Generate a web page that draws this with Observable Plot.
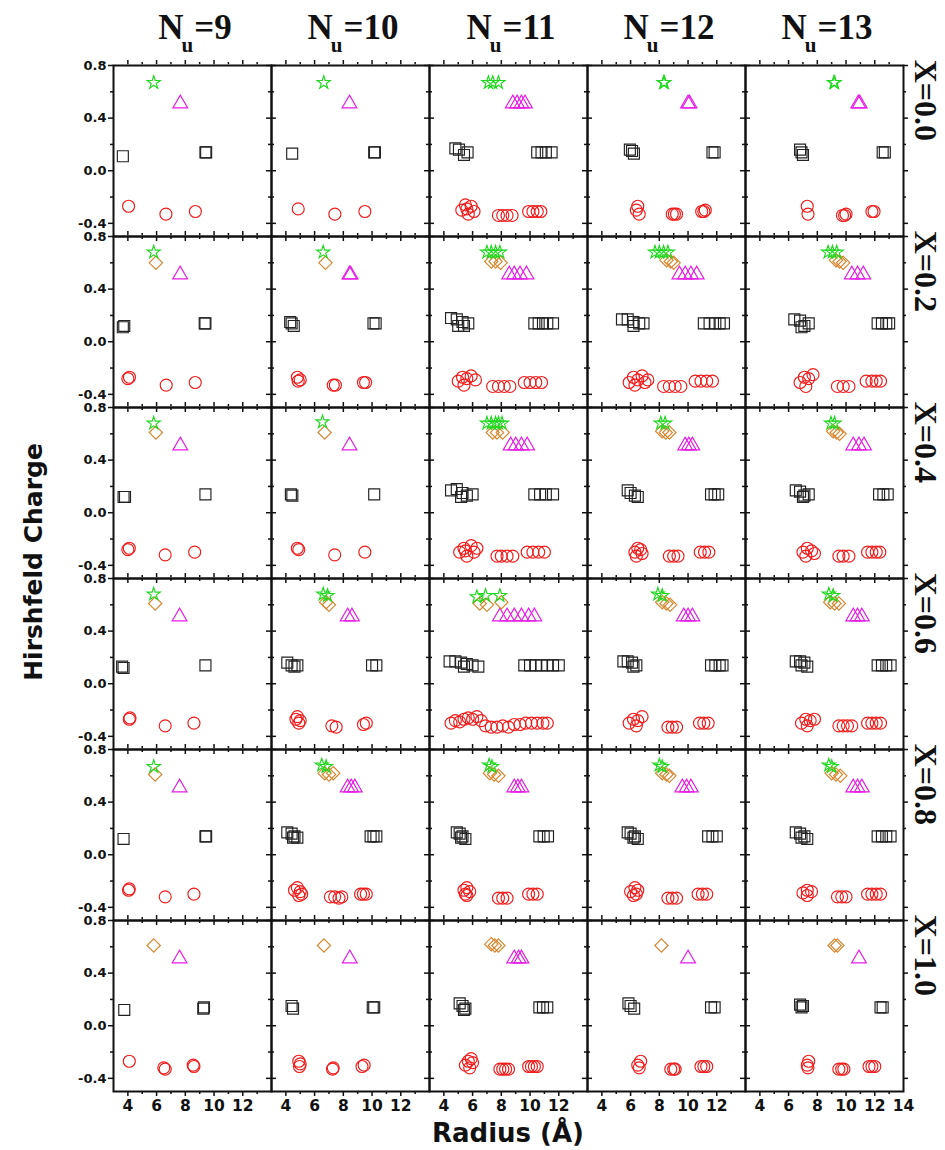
<!DOCTYPE html>
<html>
<head>
<meta charset="utf-8">
<script src="https://cdn.jsdelivr.net/npm/d3@7"></script>
<script src="https://cdn.jsdelivr.net/npm/@observablehq/plot@0.6"></script>
<style>
  body { margin: 0; background: #fff; }
  #wrap { position: relative; width: 945px; height: 1150px; background: #fff; }
  #wrap svg { position: absolute; left: 0; top: 0; }
  .colhead { position: absolute; top: 10px; width: 158px; text-align: center; white-space: nowrap;
             font: bold 35px "Liberation Serif", serif; line-height: 35px; color: #111; }
  .colhead sub { font-size: 21px; vertical-align: -13px; line-height: 0; margin-left: -2px; margin-right: 1px; }
  .ytitle { position: absolute; left: 33px; top: 562px; transform: translate(-50%, -50%) rotate(-90deg);
            font: bold 25px "DejaVu Sans", sans-serif; white-space: nowrap; color: #111; }
  .xtitle { position: absolute; left: 508px; top: 1133px; transform: translate(-50%, -50%);
            font: bold 26px "DejaVu Sans", sans-serif; white-space: nowrap; color: #111; }
</style>
</head>
<body>
<div id="wrap"></div>
<script>
// ---------- categories / ticks ----------
const nuValues = [9, 10, 11, 12, 13];
const xValues = ["0.0", "0.2", "0.4", "0.6", "0.8", "1.0"];
const xTickLabels = [4, 6, 8, 10, 12];
const xTickExtraLast = [14];
const yTickLabels = [0.8, 0.4, 0.0, -0.4];
const xMajorTicks = [4, 6, 8, 10, 12];
const xMinorTicks = [5, 7, 9, 11, 13];
const yMajorTicks = [0.8, 0.4, 0.0, -0.4];
const yMinorTicks = [0.6, 0.2, -0.2];

// ---------- series: [X, Nu, [[radius, charge], ...]] ----------
const squarePoints = [
  ["0.0", 9,  [[3.65,0.11],[9.4,0.14],[9.45,0.14]]],
  ["0.0", 10, [[4.44,0.13],[10.15,0.14],[10.2,0.14]]],
  ["0.0", 11, [[4.8,0.17],[5.05,0.16],[5.4,0.12],[5.65,0.14],[10.5,0.14],[10.8,0.14],[11.1,0.14],[11.5,0.14]]],
  ["0.0", 12, [[5.95,0.16],[6.1,0.15],[6.23,0.13],[11.7,0.14],[11.85,0.14]]],
  ["0.0", 13, [[6.8,0.16],[6.9,0.14],[7.0,0.12],[12.55,0.14],[12.7,0.14]]],
  ["0.2", 9,  [[3.65,0.11],[3.75,0.12],[9.35,0.14],[9.4,0.14]]],
  ["0.2", 10, [[4.3,0.15],[4.4,0.14],[4.55,0.12],[10.1,0.14],[10.25,0.14]]],
  ["0.2", 11, [[4.5,0.18],[4.9,0.17],[5.3,0.15],[5.7,0.14],[5.0,0.12],[5.4,0.12],[10.3,0.14],[10.6,0.14],[10.9,0.14],[11.2,0.14],[11.6,0.14]]],
  ["0.2", 12, [[5.4,0.17],[5.8,0.17],[6.2,0.15],[6.6,0.14],[6.9,0.14],[6.2,0.12],[11.1,0.14],[11.5,0.14],[11.9,0.14],[12.2,0.14],[12.5,0.14]]],
  ["0.2", 13, [[6.4,0.17],[6.8,0.16],[7.1,0.12],[7.4,0.14],[6.9,0.11],[12.2,0.14],[12.5,0.14],[12.8,0.14],[13.0,0.14]]],
  ["0.4", 9,  [[3.7,0.12],[3.8,0.12],[9.4,0.14]]],
  ["0.4", 10, [[4.35,0.14],[4.45,0.13],[10.15,0.14]]],
  ["0.4", 11, [[4.5,0.17],[4.9,0.18],[5.3,0.15],[5.6,0.13],[6.0,0.14],[5.2,0.12],[10.3,0.14],[10.7,0.14],[11.1,0.14],[11.6,0.14]]],
  ["0.4", 12, [[5.8,0.17],[6.0,0.15],[6.3,0.13],[6.5,0.12],[11.6,0.14],[11.85,0.14],[12.1,0.14]]],
  ["0.4", 13, [[6.5,0.17],[6.8,0.16],[7.1,0.13],[7.4,0.14],[7.0,0.12],[12.3,0.14],[12.6,0.14],[12.9,0.14]]],
  ["0.6", 9,  [[3.6,0.13],[3.7,0.12],[9.4,0.14]]],
  ["0.6", 10, [[4.1,0.16],[4.4,0.14],[4.6,0.13],[4.8,0.14],[10.0,0.14],[10.3,0.14]]],
  ["0.6", 11, [[4.4,0.17],[4.8,0.17],[5.2,0.16],[5.6,0.15],[6.0,0.14],[6.4,0.13],[5.4,0.13],[9.6,0.14],[10.0,0.14],[10.4,0.14],[10.8,0.14],[11.2,0.14],[11.6,0.14],[12.0,0.14]]],
  ["0.6", 12, [[5.5,0.17],[5.8,0.17],[6.1,0.16],[6.4,0.14],[6.2,0.13],[11.6,0.14],[11.9,0.14],[12.2,0.14],[12.4,0.14]]],
  ["0.6", 13, [[6.5,0.17],[6.8,0.17],[7.1,0.16],[7.3,0.13],[6.9,0.14],[12.2,0.14],[12.5,0.14],[12.8,0.14],[13.1,0.14]]],
  ["0.8", 9,  [[3.7,0.12],[9.4,0.14],[9.45,0.14]]],
  ["0.8", 10, [[4.1,0.17],[4.4,0.16],[4.6,0.14],[4.8,0.13],[4.5,0.13],[9.9,0.14],[10.1,0.14],[10.3,0.14]]],
  ["0.8", 11, [[4.9,0.17],[5.1,0.16],[5.3,0.14],[5.5,0.12],[5.2,0.13],[10.65,0.14],[10.95,0.14],[11.25,0.14]]],
  ["0.8", 12, [[5.8,0.17],[6.0,0.16],[6.3,0.14],[6.5,0.12],[6.2,0.13],[11.4,0.14],[11.7,0.14],[12.0,0.14]]],
  ["0.8", 13, [[6.5,0.17],[6.8,0.16],[7.1,0.14],[7.3,0.12],[6.9,0.13],[12.2,0.14],[12.5,0.14],[12.8,0.14],[13.1,0.14]]],
  ["1.0", 9,  [[3.75,0.12],[9.25,0.13],[9.3,0.14]]],
  ["1.0", 10, [[4.4,0.15],[4.5,0.13],[10.05,0.14],[10.15,0.14]]],
  ["1.0", 11, [[5.1,0.17],[5.3,0.15],[5.5,0.13],[5.4,0.12],[10.65,0.14],[10.9,0.14],[11.2,0.14]]],
  ["1.0", 12, [[5.85,0.17],[6.0,0.15],[6.25,0.13],[11.6,0.14],[11.85,0.14]]],
  ["1.0", 13, [[6.8,0.16],[6.9,0.14],[7.0,0.15],[12.4,0.14],[12.55,0.14]]]
];

const circlePoints = [
  ["0.0", 9,  [[4.05,-0.27],[6.65,-0.33],[8.7,-0.31]]],
  ["0.0", 10, [[4.86,-0.29],[7.41,-0.33],[9.5,-0.31]]],
  ["0.0", 11, [[5.25,-0.30],[5.5,-0.26],[5.7,-0.33],[5.9,-0.27],[6.1,-0.31],[5.6,-0.29],[7.8,-0.34],[8.1,-0.34],[8.4,-0.34],[8.75,-0.34],[9.9,-0.31],[10.2,-0.31],[10.5,-0.31],[10.75,-0.31]]],
  ["0.0", 12, [[6.4,-0.30],[6.5,-0.27],[6.6,-0.33],[8.9,-0.33],[9.05,-0.33],[9.2,-0.33],[10.95,-0.31],[11.1,-0.31],[11.2,-0.30]]],
  ["0.0", 13, [[7.3,-0.27],[7.35,-0.33],[9.75,-0.34],[9.9,-0.34],[10.0,-0.33],[11.8,-0.31],[11.95,-0.31]]],
  ["0.2", 9,  [[4.0,-0.28],[4.11,-0.27],[6.67,-0.33],[8.69,-0.31]]],
  ["0.2", 10, [[4.8,-0.27],[4.86,-0.30],[5.0,-0.29],[7.3,-0.33],[7.45,-0.33],[9.4,-0.31],[9.55,-0.31]]],
  ["0.2", 11, [[5.0,-0.30],[5.3,-0.27],[5.6,-0.28],[5.9,-0.26],[6.2,-0.29],[5.4,-0.33],[7.4,-0.34],[7.8,-0.34],[8.2,-0.34],[8.6,-0.34],[9.6,-0.31],[10.0,-0.31],[10.4,-0.31],[10.8,-0.31]]],
  ["0.2", 12, [[5.9,-0.31],[6.2,-0.27],[6.5,-0.29],[6.8,-0.26],[7.2,-0.29],[6.3,-0.33],[7.0,-0.31],[8.3,-0.34],[8.7,-0.34],[9.1,-0.34],[9.5,-0.34],[10.5,-0.30],[10.9,-0.30],[11.3,-0.30],[11.7,-0.30]]],
  ["0.2", 13, [[6.8,-0.31],[7.1,-0.27],[7.4,-0.28],[7.7,-0.25],[7.2,-0.34],[9.4,-0.34],[9.8,-0.34],[10.2,-0.34],[11.4,-0.30],[11.8,-0.30],[12.1,-0.30],[12.4,-0.30]]],
  ["0.4", 9,  [[4.0,-0.28],[4.1,-0.27],[6.6,-0.32],[8.65,-0.30]]],
  ["0.4", 10, [[4.8,-0.27],[4.9,-0.28],[7.4,-0.32],[9.5,-0.30]]],
  ["0.4", 11, [[5.1,-0.30],[5.4,-0.27],[5.6,-0.33],[5.9,-0.25],[6.3,-0.27],[5.5,-0.29],[6.1,-0.30],[7.7,-0.33],[8.0,-0.33],[8.4,-0.33],[8.8,-0.33],[9.8,-0.30],[10.2,-0.30],[10.6,-0.30],[11.0,-0.30]]],
  ["0.4", 12, [[6.3,-0.30],[6.5,-0.27],[6.7,-0.28],[6.4,-0.33],[6.8,-0.31],[8.7,-0.33],[9.0,-0.33],[9.3,-0.33],[10.85,-0.30],[11.15,-0.30],[11.45,-0.30]]],
  ["0.4", 13, [[7.0,-0.30],[7.3,-0.27],[7.6,-0.29],[7.2,-0.33],[7.8,-0.31],[9.5,-0.33],[9.8,-0.33],[10.2,-0.33],[11.5,-0.30],[11.8,-0.30],[12.1,-0.30],[12.35,-0.30]]],
  ["0.6", 9,  [[4.1,-0.27],[4.15,-0.26],[6.6,-0.32],[8.6,-0.30]]],
  ["0.6", 10, [[4.7,-0.27],[4.9,-0.30],[5.0,-0.28],[4.8,-0.25],[7.2,-0.32],[7.5,-0.33],[9.4,-0.31],[9.6,-0.30]]],
  ["0.6", 11, [[4.5,-0.30],[4.8,-0.28],[5.1,-0.29],[5.4,-0.27],[5.7,-0.26],[6.0,-0.27],[6.3,-0.25],[6.6,-0.28],[6.9,-0.32],[7.3,-0.33],[7.7,-0.33],[8.1,-0.32],[8.5,-0.33],[8.9,-0.31],[9.3,-0.31],[9.7,-0.30],[10.1,-0.30],[10.5,-0.30],[10.9,-0.30],[11.2,-0.30]]],
  ["0.6", 12, [[5.9,-0.30],[6.2,-0.27],[6.5,-0.28],[6.8,-0.25],[6.4,-0.32],[8.6,-0.33],[8.9,-0.33],[9.2,-0.33],[10.8,-0.30],[11.1,-0.30],[11.4,-0.30]]],
  ["0.6", 13, [[6.9,-0.30],[7.2,-0.27],[7.5,-0.28],[7.8,-0.27],[7.3,-0.32],[9.5,-0.32],[9.8,-0.32],[10.1,-0.32],[10.4,-0.32],[11.5,-0.30],[11.8,-0.30],[12.1,-0.30],[12.4,-0.30]]],
  ["0.8", 9,  [[4.05,-0.27],[4.1,-0.26],[6.6,-0.32],[8.6,-0.30]]],
  ["0.8", 10, [[4.6,-0.27],[4.8,-0.25],[5.0,-0.28],[5.1,-0.30],[4.9,-0.31],[7.1,-0.32],[7.4,-0.32],[7.7,-0.33],[7.9,-0.32],[9.2,-0.30],[9.4,-0.30],[9.6,-0.30]]],
  ["0.8", 11, [[5.4,-0.27],[5.6,-0.25],[5.8,-0.28],[5.6,-0.31],[5.5,-0.30],[7.8,-0.33],[8.1,-0.33],[8.4,-0.33],[9.9,-0.30],[10.2,-0.30],[10.5,-0.30]]],
  ["0.8", 12, [[6.0,-0.28],[6.3,-0.25],[6.5,-0.27],[6.2,-0.31],[6.4,-0.30],[8.6,-0.33],[8.9,-0.33],[9.2,-0.33],[10.7,-0.30],[11.0,-0.30],[11.3,-0.30]]],
  ["0.8", 13, [[7.0,-0.29],[7.3,-0.27],[7.6,-0.28],[7.3,-0.31],[9.4,-0.32],[9.7,-0.32],[10.0,-0.32],[11.5,-0.30],[11.8,-0.30],[12.1,-0.30],[12.4,-0.30]]],
  ["1.0", 9,  [[4.1,-0.27],[6.5,-0.32],[6.6,-0.33],[8.55,-0.30],[8.6,-0.31]]],
  ["1.0", 10, [[4.9,-0.27],[5.0,-0.29],[4.95,-0.31],[7.25,-0.33],[7.3,-0.32],[9.3,-0.31],[9.45,-0.30]]],
  ["1.0", 11, [[5.5,-0.30],[5.7,-0.27],[5.9,-0.25],[6.0,-0.28],[5.8,-0.32],[7.9,-0.33],[8.1,-0.33],[8.3,-0.33],[8.5,-0.33],[9.9,-0.31],[10.1,-0.31],[10.3,-0.31],[10.5,-0.31]]],
  ["1.0", 12, [[6.5,-0.30],[6.7,-0.27],[6.6,-0.32],[8.8,-0.33],[9.0,-0.33],[9.1,-0.33],[10.9,-0.31],[11.1,-0.31],[11.3,-0.31]]],
  ["1.0", 13, [[7.3,-0.30],[7.4,-0.27],[7.35,-0.32],[9.5,-0.33],[9.7,-0.33],[9.85,-0.33],[11.6,-0.31],[11.8,-0.31],[12.0,-0.31]]]
];

const trianglePoints = [
  ["0.0", 9,  [[7.65,0.51]]],
  ["0.0", 10, [[8.43,0.51]]],
  ["0.0", 11, [[8.8,0.51],[9.1,0.51],[9.4,0.51],[9.65,0.51]]],
  ["0.0", 12, [[10.0,0.51],[10.1,0.51]]],
  ["0.0", 13, [[10.85,0.51],[10.95,0.51]]],
  ["0.2", 9,  [[7.64,0.51]]],
  ["0.2", 10, [[8.43,0.51],[8.5,0.51]]],
  ["0.2", 11, [[8.55,0.51],[8.9,0.51],[9.3,0.51],[9.75,0.51]]],
  ["0.2", 12, [[9.4,0.51],[9.8,0.51],[10.2,0.51],[10.6,0.51]]],
  ["0.2", 13, [[10.4,0.51],[10.8,0.51],[11.2,0.51]]],
  ["0.4", 9,  [[7.65,0.51]]],
  ["0.4", 10, [[8.43,0.51]]],
  ["0.4", 11, [[8.65,0.51],[9.0,0.51],[9.4,0.51],[9.8,0.51]]],
  ["0.4", 12, [[9.8,0.51],[10.05,0.51],[10.3,0.51]]],
  ["0.4", 13, [[10.5,0.51],[10.9,0.51],[11.25,0.51]]],
  ["0.6", 9,  [[7.6,0.51]]],
  ["0.6", 10, [[8.3,0.51],[8.6,0.51]]],
  ["0.6", 11, [[7.9,0.51],[8.4,0.51],[8.9,0.51],[9.4,0.51],[9.9,0.51],[10.3,0.51]]],
  ["0.6", 12, [[9.7,0.51],[10.0,0.51],[10.3,0.51]]],
  ["0.6", 13, [[10.5,0.51],[10.8,0.51],[11.1,0.51]]],
  ["0.8", 9,  [[7.6,0.51]]],
  ["0.8", 10, [[8.3,0.51],[8.55,0.51],[8.8,0.51]]],
  ["0.8", 11, [[8.9,0.51],[9.15,0.51],[9.4,0.51]]],
  ["0.8", 12, [[9.6,0.51],[9.9,0.51],[10.2,0.51]]],
  ["0.8", 13, [[10.5,0.51],[10.8,0.51],[11.1,0.51]]],
  ["1.0", 9,  [[7.6,0.51]]],
  ["1.0", 10, [[8.45,0.51]]],
  ["1.0", 11, [[8.9,0.51],[9.2,0.51],[9.4,0.51]]],
  ["1.0", 12, [[10.0,0.51]]],
  ["1.0", 13, [[10.9,0.51]]]
];

const diamondPoints = [
  ["0.2", 9,  [[5.95,0.60]]],
  ["0.2", 10, [[6.76,0.60]]],
  ["0.2", 11, [[7.3,0.61],[7.6,0.61],[7.95,0.60]]],
  ["0.2", 12, [[8.5,0.62],[8.8,0.61],[9.0,0.60]]],
  ["0.2", 13, [[9.3,0.62],[9.55,0.61],[9.8,0.60]]],
  ["0.4", 9,  [[5.95,0.61]]],
  ["0.4", 10, [[6.7,0.61]]],
  ["0.4", 11, [[7.4,0.61],[7.7,0.61],[8.1,0.61]]],
  ["0.4", 12, [[8.2,0.62],[8.45,0.61],[8.7,0.61]]],
  ["0.4", 13, [[9.1,0.62],[9.35,0.61],[9.55,0.60]]],
  ["0.6", 9,  [[5.9,0.61]]],
  ["0.6", 10, [[6.8,0.62],[7.0,0.60]]],
  ["0.6", 11, [[6.5,0.61],[7.0,0.60],[8.0,0.62]]],
  ["0.6", 12, [[8.2,0.62],[8.5,0.61],[8.75,0.60]]],
  ["0.6", 13, [[8.9,0.62],[9.2,0.61],[9.5,0.61]]],
  ["0.8", 9,  [[5.9,0.61]]],
  ["0.8", 10, [[6.7,0.62],[7.0,0.61],[7.3,0.62]]],
  ["0.8", 11, [[7.2,0.62],[7.5,0.61],[7.8,0.60]]],
  ["0.8", 12, [[8.2,0.62],[8.5,0.61],[8.7,0.60]]],
  ["0.8", 13, [[9.0,0.62],[9.3,0.61],[9.6,0.60]]],
  ["1.0", 9,  [[5.8,0.61]]],
  ["1.0", 10, [[6.65,0.61]]],
  ["1.0", 11, [[7.3,0.62],[7.55,0.61],[7.8,0.61]]],
  ["1.0", 12, [[8.15,0.61]]],
  ["1.0", 13, [[9.2,0.61],[9.4,0.61]]]
];

const starPoints = [
  ["0.0", 9,  [[5.8,0.67]]],
  ["0.0", 10, [[6.64,0.67]]],
  ["0.0", 11, [[7.1,0.67],[7.4,0.67],[7.8,0.67]]],
  ["0.0", 12, [[8.3,0.67],[8.35,0.67]]],
  ["0.0", 13, [[9.15,0.67],[9.2,0.67]]],
  ["0.2", 9,  [[5.8,0.68]]],
  ["0.2", 10, [[6.6,0.68]]],
  ["0.2", 11, [[7.0,0.68],[7.3,0.68],[7.6,0.68],[7.9,0.68]]],
  ["0.2", 12, [[7.7,0.68],[8.0,0.68],[8.3,0.68],[8.6,0.68]]],
  ["0.2", 13, [[8.75,0.68],[9.05,0.68],[9.35,0.68]]],
  ["0.4", 9,  [[5.8,0.68]]],
  ["0.4", 10, [[6.55,0.69]]],
  ["0.4", 11, [[7.0,0.68],[7.3,0.68],[7.6,0.68],[7.8,0.68],[8.05,0.68]]],
  ["0.4", 12, [[8.1,0.68],[8.4,0.68]]],
  ["0.4", 13, [[8.95,0.68],[9.2,0.68]]],
  ["0.6", 9,  [[5.8,0.68]]],
  ["0.6", 10, [[6.6,0.68],[6.9,0.67]]],
  ["0.6", 11, [[6.3,0.66],[6.9,0.67],[7.9,0.67]]],
  ["0.6", 12, [[7.9,0.68],[8.2,0.67]]],
  ["0.6", 13, [[8.8,0.68],[9.1,0.67]]],
  ["0.8", 9,  [[5.8,0.67]]],
  ["0.8", 10, [[6.5,0.68],[6.8,0.67]]],
  ["0.8", 11, [[7.15,0.68],[7.35,0.67]]],
  ["0.8", 12, [[8.0,0.68],[8.2,0.67]]],
  ["0.8", 13, [[8.8,0.68],[9.0,0.67]]]
];

// ---------- layout ----------
const W = 945, H = 1150, ML = 113, MR = 42, MT = 62, MB = 57;
const PW = (W - ML - MR) / nuValues.length;
const PH = (H - MT - MB) / xValues.length;
const MAJ = 5, MIN = 3;

const flat = groups => groups.flatMap(([X, nu, pts]) => pts.map(([r, q]) => ({X, nu, r, q})));
const lastNu = nuValues[nuValues.length - 1];
const lastX = xValues[xValues.length - 1];

const yLabelData = xValues.flatMap(X => yTickLabels.map(v => ({X, nu: nuValues[0], v})));
const xLabelData = nuValues.flatMap(nu =>
  (nu === lastNu ? xTickLabels.concat(xTickExtraLast) : xTickLabels).map(v => ({X: lastX, nu, v})));
const rowLabelData = xValues.map(X => ({X, nu: lastNu}));

const tk = {stroke: "#111", strokeWidth: 1.5};
const dotCommon = {x: "r", y: "q", fx: "nu", fy: "X", fill: "none", strokeWidth: 1.15};

const chart = Plot.plot({
  width: W, height: H,
  marginLeft: ML, marginRight: MR, marginTop: MT, marginBottom: MB,
  style: {background: "#fff", overflow: "visible"},
  fx: {domain: nuValues, padding: 0, axis: null},
  fy: {domain: xValues, padding: 0, axis: null},
  x: {domain: [3, 14], axis: null},
  y: {domain: [-0.5, 0.8], axis: null},
  marks: [
    // outward ticks on all four sides of each panel
    Plot.tickX(xMajorTicks, {x: d => d, insetTop: PH, insetBottom: -MAJ, ...tk}),
    Plot.tickX(xMinorTicks, {x: d => d, insetTop: PH, insetBottom: -MIN, ...tk}),
    Plot.tickX(xMajorTicks, {x: d => d, insetTop: -MAJ, insetBottom: PH, ...tk}),
    Plot.tickX(xMinorTicks, {x: d => d, insetTop: -MIN, insetBottom: PH, ...tk}),
    Plot.tickY(yMajorTicks, {y: d => d, insetLeft: -MAJ, insetRight: PW, ...tk}),
    Plot.tickY(yMinorTicks, {y: d => d, insetLeft: -MIN, insetRight: PW, ...tk}),
    Plot.tickY(yMajorTicks, {y: d => d, insetLeft: PW, insetRight: -MAJ, ...tk}),
    Plot.tickY(yMinorTicks, {y: d => d, insetLeft: PW, insetRight: -MIN, ...tk}),
    Plot.frame({stroke: "#111", strokeWidth: 2}),
    // data
    Plot.dot(flat(squarePoints),   {...dotCommon, symbol: "square",   r: 6.2, stroke: "#222222"}),
    Plot.dot(flat(circlePoints),   {...dotCommon, symbol: "circle",   r: 6.0, stroke: "#f01c1c"}),
    Plot.dot(flat(trianglePoints), {...dotCommon, symbol: "triangle", r: 5.5, stroke: "#e61ee6"}),
    Plot.dot(flat(diamondPoints),  {...dotCommon, symbol: "diamond2", r: 6.0, stroke: "#d8862e"}),
    Plot.dot(flat(starPoints),     {...dotCommon, symbol: "star",     r: 4.1, stroke: "#1fd81f"}),
    // tick labels
    Plot.text(yLabelData, {fx: "nu", fy: "X", y: "v", text: d => d.v.toFixed(1), frameAnchor: "left",
      textAnchor: "end", dx: -7, fontSize: 13, fontWeight: "bold", fontFamily: "DejaVu Sans", fill: "#111"}),
    Plot.text(xLabelData, {fx: "nu", fy: "X", x: "v", text: d => String(d.v), frameAnchor: "bottom",
      lineAnchor: "top", dy: 8, fontSize: 15.5, fontWeight: "bold", fontFamily: "DejaVu Sans", fill: "#111"}),
    // row labels
    Plot.text(rowLabelData, {fx: "nu", fy: "X", text: d => "X=" + d.X, frameAnchor: "right", rotate: 90,
      dx: 22, dy: -10, fontSize: 32, fontWeight: "bold", fontFamily: "Liberation Serif", fill: "#111"})
  ]
});

const wrap = document.getElementById("wrap");
wrap.appendChild(chart);

// column headers N_u = ...
nuValues.forEach((nu, i) => {
  const d = document.createElement("div");
  d.className = "colhead";
  d.style.left = (ML + i * PW + 3) + "px";
  d.innerHTML = "N<sub>u</sub>=" + nu;
  wrap.appendChild(d);
});
const yt = document.createElement("div");
yt.className = "ytitle"; yt.textContent = "Hirshfeld Charge";
wrap.appendChild(yt);
const xt = document.createElement("div");
xt.className = "xtitle"; xt.textContent = "Radius (Å)";
wrap.appendChild(xt);
</script>
</body>
</html>
